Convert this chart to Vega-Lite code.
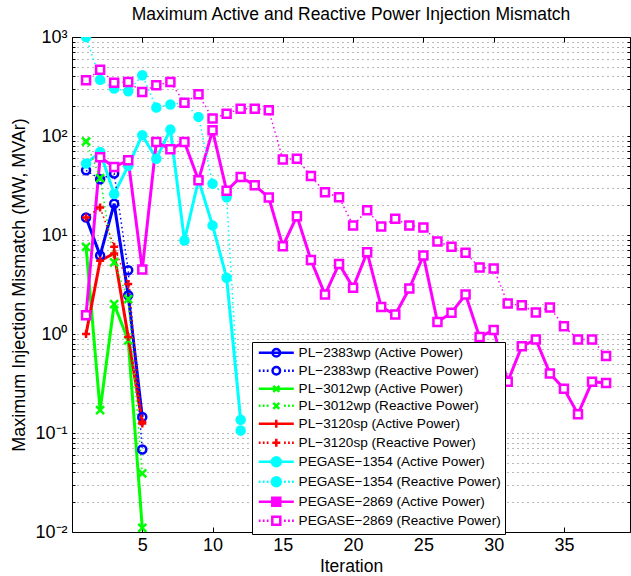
{
  "$schema": "https://vega.github.io/schema/vega-lite/v6.json",
  "width": 558,
  "height": 495,
  "autosize": "none",
  "padding": {"left": 72, "top": 37, "right": 1, "bottom": 44},
  "title": {"text": "Maximum Active and Reactive Power Injection Mismatch", "fontSize": 17.5, "fontWeight": "normal", "font": "Liberation Sans", "color": "black", "offset": 5, "anchor": "middle"},
  "config": {"font": "Liberation Sans", "view": {"stroke": "black", "strokeWidth": 1}},
  "datasets": {
    "rows": [
      {"s":"PL−2383wp (Active Power)","k":"A","i":1,"v":15},
      {"s":"PL−2383wp (Active Power)","k":"A","i":2,"v":6.2},
      {"s":"PL−2383wp (Active Power)","k":"A","i":3,"v":20.7},
      {"s":"PL−2383wp (Active Power)","k":"A","i":4,"v":2.46},
      {"s":"PL−2383wp (Active Power)","k":"A","i":5,"v":0.145},
      {"s":"PL−2383wp (Reactive Power)","k":"R","i":1,"v":45},
      {"s":"PL−2383wp (Reactive Power)","k":"R","i":2,"v":36.6},
      {"s":"PL−2383wp (Reactive Power)","k":"R","i":3,"v":41.7},
      {"s":"PL−2383wp (Reactive Power)","k":"R","i":4,"v":4.4},
      {"s":"PL−2383wp (Reactive Power)","k":"R","i":5,"v":0.068},
      {"s":"PL−3012wp (Active Power)","k":"A","i":1,"v":7.6},
      {"s":"PL−3012wp (Active Power)","k":"A","i":2,"v":0.17},
      {"s":"PL−3012wp (Active Power)","k":"A","i":3,"v":2.0},
      {"s":"PL−3012wp (Active Power)","k":"A","i":4,"v":0.86},
      {"s":"PL−3012wp (Active Power)","k":"A","i":5,"v":0.011},
      {"s":"PL−3012wp (Reactive Power)","k":"R","i":1,"v":88},
      {"s":"PL−3012wp (Reactive Power)","k":"R","i":2,"v":37.6},
      {"s":"PL−3012wp (Reactive Power)","k":"R","i":3,"v":5.3},
      {"s":"PL−3012wp (Reactive Power)","k":"R","i":4,"v":2.25},
      {"s":"PL−3012wp (Reactive Power)","k":"R","i":5,"v":0.039},
      {"s":"PL−3120sp (Active Power)","k":"A","i":1,"v":1.0},
      {"s":"PL−3120sp (Active Power)","k":"A","i":2,"v":5.5},
      {"s":"PL−3120sp (Active Power)","k":"A","i":3,"v":6.5},
      {"s":"PL−3120sp (Active Power)","k":"A","i":4,"v":0.93},
      {"s":"PL−3120sp (Active Power)","k":"A","i":5,"v":0.125},
      {"s":"PL−3120sp (Reactive Power)","k":"R","i":1,"v":15},
      {"s":"PL−3120sp (Reactive Power)","k":"R","i":2,"v":19},
      {"s":"PL−3120sp (Reactive Power)","k":"R","i":3,"v":7.6},
      {"s":"PL−3120sp (Reactive Power)","k":"R","i":4,"v":3.2},
      {"s":"PL−3120sp (Reactive Power)","k":"R","i":5,"v":0.13},
      {"s":"PEGASE−1354 (Active Power)","k":"A","i":1,"v":52.6},
      {"s":"PEGASE−1354 (Active Power)","k":"A","i":2,"v":69},
      {"s":"PEGASE−1354 (Active Power)","k":"A","i":3,"v":26},
      {"s":"PEGASE−1354 (Active Power)","k":"A","i":4,"v":50},
      {"s":"PEGASE−1354 (Active Power)","k":"A","i":5,"v":102},
      {"s":"PEGASE−1354 (Active Power)","k":"A","i":6,"v":59},
      {"s":"PEGASE−1354 (Active Power)","k":"A","i":7,"v":116},
      {"s":"PEGASE−1354 (Active Power)","k":"A","i":8,"v":8.8},
      {"s":"PEGASE−1354 (Active Power)","k":"A","i":9,"v":36},
      {"s":"PEGASE−1354 (Active Power)","k":"A","i":10,"v":12.5},
      {"s":"PEGASE−1354 (Active Power)","k":"A","i":11,"v":3.7},
      {"s":"PEGASE−1354 (Active Power)","k":"A","i":12,"v":0.136},
      {"s":"PEGASE−1354 (Reactive Power)","k":"R","i":1,"v":1000},
      {"s":"PEGASE−1354 (Reactive Power)","k":"R","i":2,"v":370},
      {"s":"PEGASE−1354 (Reactive Power)","k":"R","i":3,"v":301},
      {"s":"PEGASE−1354 (Reactive Power)","k":"R","i":4,"v":283},
      {"s":"PEGASE−1354 (Reactive Power)","k":"R","i":5,"v":410},
      {"s":"PEGASE−1354 (Reactive Power)","k":"R","i":6,"v":194},
      {"s":"PEGASE−1354 (Reactive Power)","k":"R","i":7,"v":208},
      {"s":"PEGASE−1354 (Reactive Power)","k":"R","i":8,"v":217},
      {"s":"PEGASE−1354 (Reactive Power)","k":"R","i":9,"v":156},
      {"s":"PEGASE−1354 (Reactive Power)","k":"R","i":10,"v":33},
      {"s":"PEGASE−1354 (Reactive Power)","k":"R","i":11,"v":24},
      {"s":"PEGASE−1354 (Reactive Power)","k":"R","i":12,"v":0.106},
      {"s":"PEGASE−2869 (Active Power)","k":"A","i":1,"v":1.55},
      {"s":"PEGASE−2869 (Active Power)","k":"A","i":2,"v":61},
      {"s":"PEGASE−2869 (Active Power)","k":"A","i":3,"v":48.6},
      {"s":"PEGASE−2869 (Active Power)","k":"A","i":4,"v":57},
      {"s":"PEGASE−2869 (Active Power)","k":"A","i":5,"v":4.47},
      {"s":"PEGASE−2869 (Active Power)","k":"A","i":6,"v":87},
      {"s":"PEGASE−2869 (Active Power)","k":"A","i":7,"v":73.5},
      {"s":"PEGASE−2869 (Active Power)","k":"A","i":8,"v":87},
      {"s":"PEGASE−2869 (Active Power)","k":"A","i":9,"v":35.7},
      {"s":"PEGASE−2869 (Active Power)","k":"A","i":10,"v":114},
      {"s":"PEGASE−2869 (Active Power)","k":"A","i":11,"v":28},
      {"s":"PEGASE−2869 (Active Power)","k":"A","i":12,"v":38.5},
      {"s":"PEGASE−2869 (Active Power)","k":"A","i":13,"v":31.8},
      {"s":"PEGASE−2869 (Active Power)","k":"A","i":14,"v":23.9},
      {"s":"PEGASE−2869 (Active Power)","k":"A","i":15,"v":7.7},
      {"s":"PEGASE−2869 (Active Power)","k":"A","i":16,"v":15.5},
      {"s":"PEGASE−2869 (Active Power)","k":"A","i":17,"v":5.6},
      {"s":"PEGASE−2869 (Active Power)","k":"A","i":18,"v":2.5},
      {"s":"PEGASE−2869 (Active Power)","k":"A","i":19,"v":5.1},
      {"s":"PEGASE−2869 (Active Power)","k":"A","i":20,"v":2.94},
      {"s":"PEGASE−2869 (Active Power)","k":"A","i":21,"v":6.7},
      {"s":"PEGASE−2869 (Active Power)","k":"A","i":22,"v":1.87},
      {"s":"PEGASE−2869 (Active Power)","k":"A","i":23,"v":1.57},
      {"s":"PEGASE−2869 (Active Power)","k":"A","i":24,"v":2.88},
      {"s":"PEGASE−2869 (Active Power)","k":"A","i":25,"v":6.2},
      {"s":"PEGASE−2869 (Active Power)","k":"A","i":26,"v":1.32},
      {"s":"PEGASE−2869 (Active Power)","k":"A","i":27,"v":1.64},
      {"s":"PEGASE−2869 (Active Power)","k":"A","i":28,"v":2.5},
      {"s":"PEGASE−2869 (Active Power)","k":"A","i":29,"v":0.93},
      {"s":"PEGASE−2869 (Active Power)","k":"A","i":30,"v":1.1},
      {"s":"PEGASE−2869 (Active Power)","k":"A","i":31,"v":0.33},
      {"s":"PEGASE−2869 (Active Power)","k":"A","i":32,"v":0.75},
      {"s":"PEGASE−2869 (Active Power)","k":"A","i":33,"v":0.88},
      {"s":"PEGASE−2869 (Active Power)","k":"A","i":34,"v":0.4},
      {"s":"PEGASE−2869 (Active Power)","k":"A","i":35,"v":0.28},
      {"s":"PEGASE−2869 (Active Power)","k":"A","i":36,"v":0.155},
      {"s":"PEGASE−2869 (Active Power)","k":"A","i":37,"v":0.33},
      {"s":"PEGASE−2869 (Active Power)","k":"A","i":38,"v":0.32},
      {"s":"PEGASE−2869 (Reactive Power)","k":"R","i":1,"v":365},
      {"s":"PEGASE−2869 (Reactive Power)","k":"R","i":2,"v":468},
      {"s":"PEGASE−2869 (Reactive Power)","k":"R","i":3,"v":346},
      {"s":"PEGASE−2869 (Reactive Power)","k":"R","i":4,"v":351},
      {"s":"PEGASE−2869 (Reactive Power)","k":"R","i":5,"v":278},
      {"s":"PEGASE−2869 (Reactive Power)","k":"R","i":6,"v":325},
      {"s":"PEGASE−2869 (Reactive Power)","k":"R","i":7,"v":351},
      {"s":"PEGASE−2869 (Reactive Power)","k":"R","i":8,"v":217},
      {"s":"PEGASE−2869 (Reactive Power)","k":"R","i":9,"v":264},
      {"s":"PEGASE−2869 (Reactive Power)","k":"R","i":10,"v":150},
      {"s":"PEGASE−2869 (Reactive Power)","k":"R","i":11,"v":168},
      {"s":"PEGASE−2869 (Reactive Power)","k":"R","i":12,"v":188},
      {"s":"PEGASE−2869 (Reactive Power)","k":"R","i":13,"v":189},
      {"s":"PEGASE−2869 (Reactive Power)","k":"R","i":14,"v":182},
      {"s":"PEGASE−2869 (Reactive Power)","k":"R","i":15,"v":58},
      {"s":"PEGASE−2869 (Reactive Power)","k":"R","i":16,"v":59},
      {"s":"PEGASE−2869 (Reactive Power)","k":"R","i":17,"v":39.4},
      {"s":"PEGASE−2869 (Reactive Power)","k":"R","i":18,"v":27},
      {"s":"PEGASE−2869 (Reactive Power)","k":"R","i":19,"v":24},
      {"s":"PEGASE−2869 (Reactive Power)","k":"R","i":20,"v":12.5},
      {"s":"PEGASE−2869 (Reactive Power)","k":"R","i":21,"v":17.8},
      {"s":"PEGASE−2869 (Reactive Power)","k":"R","i":22,"v":12.2},
      {"s":"PEGASE−2869 (Reactive Power)","k":"R","i":23,"v":14.6},
      {"s":"PEGASE−2869 (Reactive Power)","k":"R","i":24,"v":12.5},
      {"s":"PEGASE−2869 (Reactive Power)","k":"R","i":25,"v":11.9},
      {"s":"PEGASE−2869 (Reactive Power)","k":"R","i":26,"v":8.6},
      {"s":"PEGASE−2869 (Reactive Power)","k":"R","i":27,"v":7.6},
      {"s":"PEGASE−2869 (Reactive Power)","k":"R","i":28,"v":6.6},
      {"s":"PEGASE−2869 (Reactive Power)","k":"R","i":29,"v":4.7},
      {"s":"PEGASE−2869 (Reactive Power)","k":"R","i":30,"v":4.6},
      {"s":"PEGASE−2869 (Reactive Power)","k":"R","i":31,"v":2.03},
      {"s":"PEGASE−2869 (Reactive Power)","k":"R","i":32,"v":1.95},
      {"s":"PEGASE−2869 (Reactive Power)","k":"R","i":33,"v":1.65},
      {"s":"PEGASE−2869 (Reactive Power)","k":"R","i":34,"v":1.85},
      {"s":"PEGASE−2869 (Reactive Power)","k":"R","i":35,"v":1.2},
      {"s":"PEGASE−2869 (Reactive Power)","k":"R","i":36,"v":0.88},
      {"s":"PEGASE−2869 (Reactive Power)","k":"R","i":37,"v":0.88},
      {"s":"PEGASE−2869 (Reactive Power)","k":"R","i":38,"v":0.6}
    ]
  },
  "data": {"name": "rows"},
  "layer": [
    {
      "transform": [{"filter": "datum.k == 'A'"}],
      "mark": {"type": "line", "strokeWidth": 3, "clip": true},
      "encoding": {
        "x": {"field": "i", "type": "quantitative", "scale": {"domain": [0, 39.7], "nice": false, "zero": false},
              "axis": {"orient": "bottom", "values": [5, 10, 15, 20, 25, 30, 35], "title": "Iteration", "titleFontSize": 17.5, "titleFontWeight": "normal", "titleColor": "black", "titlePadding": 3, "labelFontSize": 18, "labelColor": "black", "labelPadding": 9, "tickSize": -5, "tickColor": "black", "domain": false, "grid": false}},
        "y": {"field": "v", "type": "quantitative", "scale": {"type": "log", "domain": [0.01, 1000], "nice": false},
              "axis": {"orient": "left", "values": [0.01,0.02,0.03,0.04,0.05,0.06,0.07,0.08,0.09,0.1,0.2,0.3,0.4,0.5,0.6,0.7,0.8,0.9,1,2,3,4,5,6,7,8,9,10,20,30,40,50,60,70,80,90,100,200,300,400,500,600,700,800,900,1000],
                       "labelExpr": "datum.value == 1000 ? '10³' : datum.value == 100 ? '10²' : datum.value == 10 ? '10¹' : datum.value == 1 ? '10⁰' : datum.value == 0.1 ? '10⁻¹' : datum.value == 0.01 ? '10⁻²' : ''",
                       "labelOverlap": false, "labelFontSize": 18, "labelColor": "black", "labelPadding": 8,
                       "title": "Maximum Injection Mismatch (MW, MVAr)", "titleFontSize": 18, "titleFontWeight": "normal", "titleColor": "black", "titlePadding": 6,
                       "tickSize": -3, "tickColor": "black", "domain": false,
                       "grid": true, "gridDash": [1, 4], "gridColor": "#000000", "gridOpacity": 0.55, "gridWidth": 1}},
        "color": {"field": "s", "type": "nominal",
                  "scale": {"domain": ["PL−2383wp (Active Power)","PL−2383wp (Reactive Power)","PL−3012wp (Active Power)","PL−3012wp (Reactive Power)","PL−3120sp (Active Power)","PL−3120sp (Reactive Power)","PEGASE−1354 (Active Power)","PEGASE−1354 (Reactive Power)","PEGASE−2869 (Active Power)","PEGASE−2869 (Reactive Power)"],
                            "range": ["#0000FF","#0000FF","#00FF00","#00FF00","#FF0000","#FF0000","#00FFFF","#00FFFF","#FF00FF","#FF00FF"]},
                  "legend": {"title": null, "orient": "none", "legendX": 180, "legendY": 305, "padding": 4,
                             "strokeColor": "black", "fillColor": "white",
                             "labelFontSize": 13.6, "labelColor": "black", "labelFont": "Liberation Sans", "labelLimit": 400,
                             "rowPadding": 0, "symbolSize": 100, "labelOffset": 29, "symbolStrokeWidth": 2.5,
                             "encode": {"symbols": {"update": {
                               "shape": {"signal": "['M-0.8,0H6.2M1.95,0A0.75,0.75,0,1,1,3.45,0A0.75,0.75,0,1,1,1.95,0Z','M-0.8,0h0.35M0,0h0.35M0.8,0h0.35M4.25,0h0.35M5.05,0h0.35M5.85,0h0.35M1.95,0A0.75,0.75,0,1,1,3.45,0A0.75,0.75,0,1,1,1.95,0Z','M-0.8,0H6.2M2.1,-0.6L3.3,0.6M2.1,0.6L3.3,-0.6','M-0.8,0h0.35M0,0h0.35M0.8,0h0.35M4.25,0h0.35M5.05,0h0.35M5.85,0h0.35M2.1,-0.6L3.3,0.6M2.1,0.6L3.3,-0.6','M-0.8,0H6.2M1.9,0H3.5M2.7,-0.8V0.8','M-0.8,0h0.35M0,0h0.35M0.8,0h0.35M4.25,0h0.35M5.05,0h0.35M5.85,0h0.35M1.9,0H3.5M2.7,-0.8V0.8','M-0.8,0H6.2M1.8,0A0.9,0.9,0,1,1,3.6,0A0.9,0.9,0,1,1,1.8,0Z','M-0.8,0h0.35M0,0h0.35M0.8,0h0.35M4.25,0h0.35M5.05,0h0.35M5.85,0h0.35M1.8,0A0.9,0.9,0,1,1,3.6,0A0.9,0.9,0,1,1,1.8,0Z','M-0.8,0H6.2M1.9,-0.8H3.5V0.8H1.9Z','M-0.8,0h0.35M0,0h0.35M0.8,0h0.35M4.25,0h0.35M5.05,0h0.35M5.85,0h0.35M1.9,-0.8H3.5V0.8H1.9Z'][datum.index]"},
                               "fill": {"signal": "['transparent','transparent','transparent','transparent','transparent','transparent','#00FFFF','#00FFFF','#FF00FF','#FFFFFF'][datum.index]"},
                               "strokeWidth": {"value": 2.5},
                               "opacity": {"value": 1}
                             }}}}}
      }
    },
    {
      "transform": [{"filter": "datum.k == 'R'"}],
      "mark": {"type": "line", "strokeWidth": 1.5, "strokeDash": [1.5, 3], "clip": true},
      "encoding": {
        "x": {"field": "i", "type": "quantitative", "axis": null},
        "y": {"field": "v", "type": "quantitative", "axis": null},
        "color": {"field": "s", "type": "nominal"}
      }
    },
    {
      "mark": {"type": "point", "size": 64, "strokeWidth": 2.5, "opacity": 1, "clip": true},
      "encoding": {
        "x": {"field": "i", "type": "quantitative",
              "axis": {"orient": "top", "values": [5, 10, 15, 20, 25, 30, 35], "labels": false, "title": null, "tickSize": -5, "tickColor": "black", "domain": false, "grid": false}},
        "y": {"field": "v", "type": "quantitative",
              "axis": {"orient": "right", "values": [0.01,0.02,0.03,0.04,0.05,0.06,0.07,0.08,0.09,0.1,0.2,0.3,0.4,0.5,0.6,0.7,0.8,0.9,1,2,3,4,5,6,7,8,9,10,20,30,40,50,60,70,80,90,100,200,300,400,500,600,700,800,900,1000], "labels": false, "title": null, "tickSize": -3, "tickColor": "black", "domain": false, "grid": false}},
        "stroke": {"field": "s", "type": "nominal", "legend": null, "sort": null,
                   "scale": {"range": ["#0000FF","#0000FF","#00FF00","#00FF00","#FF0000","#FF0000","#00FFFF","#00FFFF","#FF00FF","#FF00FF"]}},
        "fill": {"field": "s", "type": "nominal", "legend": null, "sort": null,
                 "scale": {"range": ["transparent","transparent","transparent","transparent","transparent","transparent","#00FFFF","#00FFFF","#FFFFFF","#FFFFFF"]}},
        "shape": {"field": "s", "type": "nominal", "legend": null, "sort": null,
                  "scale": {"range": ["circle","circle","M-1,-1L1,1M-1,1L1,-1","M-1,-1L1,1M-1,1L1,-1","M-1,0H1M0,-1V1","M-1,0H1M0,-1V1","circle","circle","square","square"]}}
      }
    }
  ],
  "resolve": {"axis": {"x": "independent", "y": "independent"}}
}
